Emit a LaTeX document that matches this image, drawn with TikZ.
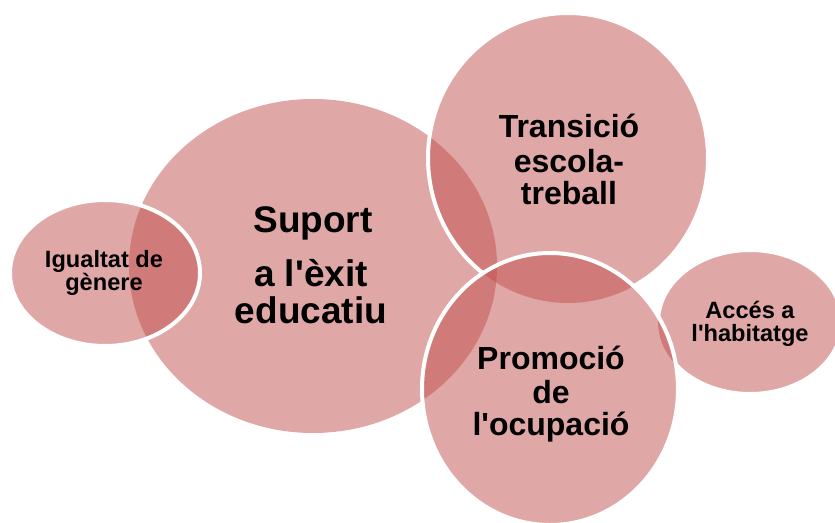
\documentclass[tikz,border=0pt]{standalone}
\usepackage{fontspec}
\setmainfont{Liberation Sans}
\definecolor{venn}{HTML}{C0504D}
\newcommand{\sq}{\textquotesingle}
\tikzset{
  vfill/.style={fill=venn, fill opacity=0.5, draw=none},
  vline/.style={draw=white, line width=4pt},
  bigtxt/.style={font=\bfseries\fontsize{37}{37}\selectfont, anchor=base, inner sep=0pt, text=black},
  midtxt/.style={font=\bfseries\fontsize{32}{32}\selectfont, anchor=base, inner sep=0pt, text=black},
  smalltxt/.style={font=\bfseries\fontsize{23.6}{23.6}\selectfont, anchor=base, inner sep=0pt, text=black},
}
\begin{document}
\begin{tikzpicture}[x=1pt,y=-1pt]
\useasboundingbox (0,0) rectangle (835,522);
% centres
\coordinate (cS) at (313,266);
\coordinate (cI) at (105,273);
\coordinate (cT) at (568,158);
\coordinate (cA) at (750,322);
\coordinate (cP) at (550,389);
% fills
\fill[vfill] (cS) ellipse [x radius=184pt, y radius=167pt];
\fill[vfill] (cI) ellipse [x radius=95pt, y radius=73pt];
\fill[vfill] (cT) ellipse [x radius=140pt, y radius=145pt];
\fill[vfill] (cA) ellipse [x radius=92pt, y radius=72pt];
\fill[vfill] (cP) ellipse [x radius=128pt, y radius=136pt];
% outlines
\draw[vline] (cI) ellipse [x radius=95pt, y radius=73pt];
\begin{scope}[even odd rule]
  \clip (-20,-20) rectangle (860,545) (cP) ellipse [x radius=128pt, y radius=136pt];
  \draw[vline] (cT) ellipse [x radius=140pt, y radius=145pt];
  \draw[vline] (cA) ellipse [x radius=92pt, y radius=72pt];
\end{scope}
\draw[vline] (cP) ellipse [x radius=128pt, y radius=136pt];
% texts
\node[bigtxt] (s1) at (313,232) {Suport};
\node[bigtxt] (s2) at (311,286) {a l\sq èxit};
\node[bigtxt] (s3) at (311,323) {educatiu};
\node[smalltxt] (i1) at (104,267) {Igualtat de};
\node[smalltxt] (i2) at (104,290) {gènere};
\node[midtxt] (t1) at (569,137) {Transició};
\node[midtxt] (t2) at (569,172) {escola-};
\node[midtxt] (t3) at (569,204) {treball};
\node[midtxt] (p1) at (551,369) {Promoció};
\node[midtxt] (p2) at (551,403) {de};
\node[midtxt] (p3) at (551,435) {l\sq ocupació};
\node[smalltxt] (a1) at (750,318) {Accés a};
\node[smalltxt] (a2) at (750,341) {l\sq habitatge};
\end{tikzpicture}
\end{document}
